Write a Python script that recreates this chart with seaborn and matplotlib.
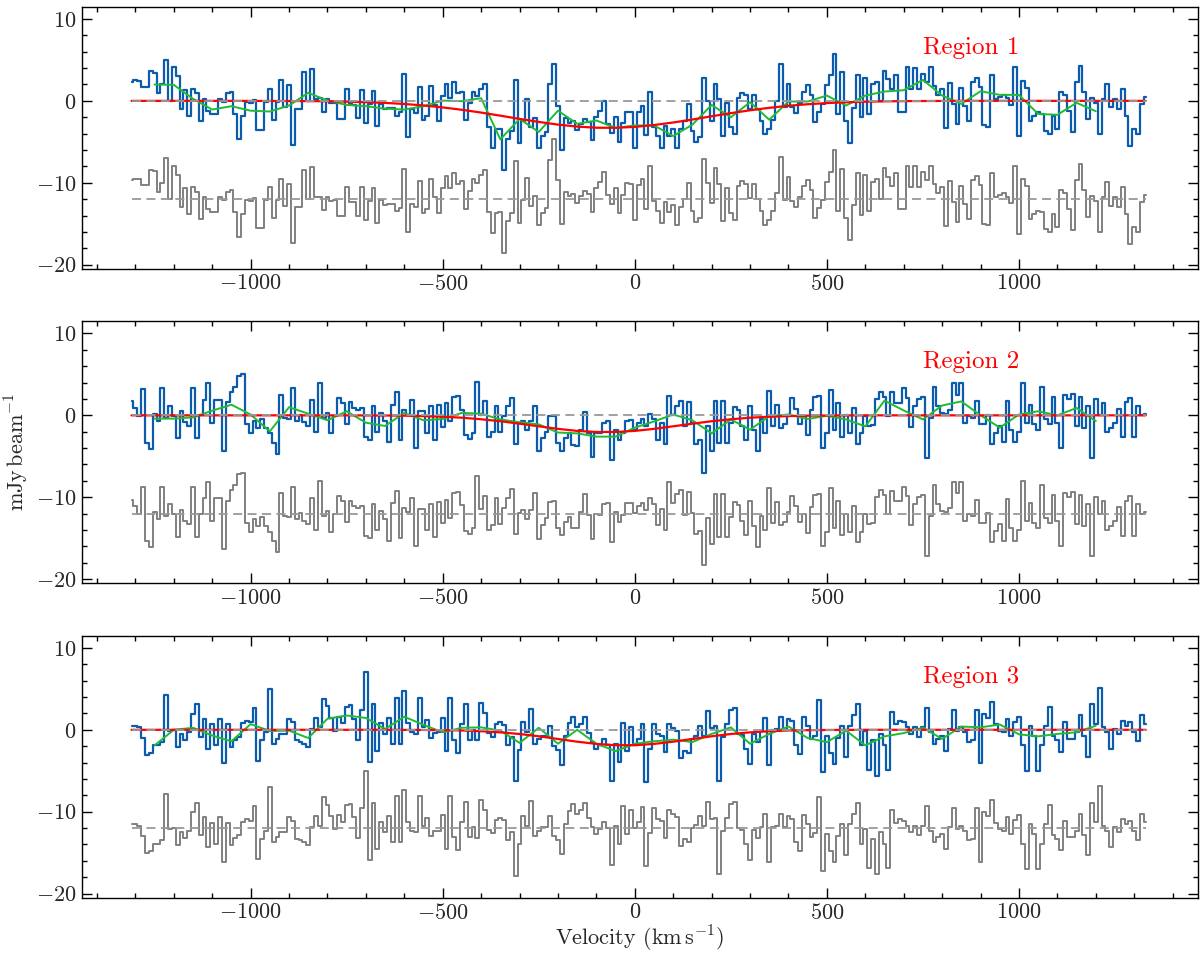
import numpy as np
import matplotlib
matplotlib.use('Agg')
import matplotlib.pyplot as plt
from matplotlib.ticker import MultipleLocator
import seaborn as sns

# channel velocities (km/s), 10 km/s channels
velocity = np.arange(-1310, 1331, 10)
# smoothed spectrum, one point every 50 km/s
smooth_velocity = np.arange(-1250, 1201, 50)
# gaussian fit, sampled every 50 km/s
fit_velocity = np.concatenate([[-1310], np.arange(-1300, 1301, 50), [1330]])

region_names = ['Region 1', 'Region 2', 'Region 3']
resid_offset = -12

flux_r1 = [2.3, 2.5, 2.4, 1.7, 1.7, 3.6, 3.4, 0.9, 2.0, 5.0,
           0.0, 4.1, 3.0, -1.0, 1.3, -1.8, 1.5, 0.9, -2.4, 0.2,
           -1.2, -1.6, -1.6, 0.2, -0.1, 0.9, 1.1, -1.6, -4.6, -1.8,
           -0.1, -0.2, 0.1, -3.5, -3.5, -0.1, 1.5, -2.3, -0.1, 2.5,
           -0.8, 1.9, -5.4, -1.0, -1.0, 3.5, 0.0, 3.9, 0.2, 0.3,
           -1.4, 0.2, -0.3, -0.2, -2.2, -2.2, 1.4, -0.4, -0.5, -2.1,
           1.3, -2.7, -0.4, 1.2, -3.1, -0.4, -1.0,
           -0.9, -0.9, -1.8, -1.4, 3.3, -4.4, -1.0, -1.5, 1.7, -2.3,
           -1.8, 1.8, -0.5, -2.4, 0.6, 2.0, 0.4, 2.3, 0.9, 1.1,
           -2.3, -0.2, 1.1, 0.6, 1.5, 2.1, -3.2, -5.8, -3.4, -3.4,
           -8.5, -4.6, -3.7, 2.5, -5.1, -2.4, 0.2, -3.2, -2.1, -5.7,
           -4.3, -3.8, 2.0, 4.5, -0.6, -6.0, -2.1, -2.7, -2.5, -3.6,
           -2.8, -2.2, -2.6, -4.8, -2.0, -1.2, 0.0, -2.8, -3.9, -2.0,
           -5.0, -2.7, -1.3, -1.4, -5.7, -1.4, -0.6,
           -4.2, 1.1, -3.2, -4.3, -5.8, -3.1, -4.3, -3.4, -5.7, -3.4,
           -2.4, -0.4, -3.7, -5.0, -4.4, 2.8, 0.0, -2.4, 2.0, 0.2,
           -4.3, -0.2, -3.2, -4.0, 0.3, 0.9, 0.7, -1.0, 0.7, -1.0,
           -2.4, -4.1, -3.4, -2.3, 0.0, 4.5, -0.8, 2.1, -0.8, -1.5,
           -0.2, 1.1, 1.9, 0.7, -2.6, -1.4, -0.4, 1.9, 3.1, 5.7,
           -1.6, 3.5, -2.4, -5.1, -0.9, 3.1, -2.0, 2.8, -1.6, 2.0,
           2.3, 0.0, 3.7, 2.7, 1.5, 3.1,
           -1.3, -1.3, 4.1, 1.5, 4.0, 1.5, 3.3, 2.3, 4.1, 1.8,
           0.7, 1.5, -3.3, 2.2, -0.4, -2.8, 1.6, -0.6, -2.4, 2.3,
           2.8, 1.7, -3.0, -3.2, 3.2, 0.2, 0.5, 0.7, 0.3, -0.5,
           4.1, -4.3, 2.4, 1.6, -2.4, -1.8, -1.4, -1.6, -3.7, -4.0,
           -1.8, -3.4, 1.1, 0.7, -1.2, -3.8, 2.3, 4.3, 1.1, -2.2,
           0.4, -0.2, -4.0, 0.2, 2.1, -0.8, 0.2, -1.0, 1.5, -1.8,
           -5.5, -3.4, -4.0, -0.4, 0.5]

resid_r1 = [-9.7, -9.5, -9.6, -10.3, -10.3, -8.4, -8.6, -11.1, -10.0, -7.0,
            -12.0, -7.9, -9.0, -13.0, -10.7, -13.8, -10.5, -11.1, -14.4, -11.8,
            -13.2, -13.6, -13.6, -11.8, -12.1, -11.1, -10.9, -13.6, -16.6, -13.8,
            -12.1, -12.2, -11.9, -15.5, -15.5, -12.1, -10.5, -14.3, -12.1, -9.5,
            -12.8, -10.1, -17.4, -13.0, -13.0, -8.5, -12.0, -8.1, -11.8, -11.7,
            -13.35, -11.75, -12.25, -12.1, -14.1, -14.1, -10.5, -12.3, -12.4, -14.0,
            -10.55, -14.55, -12.2, -10.6, -14.9, -12.15, -12.75, -12.6, -12.6, -13.5,
            -13.05, -8.3, -16.0, -12.55, -13.0, -9.8, -13.75, -13.2, -9.55, -11.8,
            -13.65, -10.6, -9.15, -10.7, -8.75, -10.1, -9.8, -13.15, -10.95, -9.6,
            -10.05, -9.05, -8.4, -13.6, -16.15, -13.65, -13.6, -18.6, -14.65, -13.65,
            -7.4, -14.9, -12.15, -9.45, -12.8, -11.6, -15.15, -13.65, -13.1, -7.25,
            -4.65, -9.7, -15.05, -11.1, -11.65, -11.4, -12.45, -11.6, -10.95, -11.35,
            -13.55, -10.7, -9.9, -8.7, -11.5, -12.6, -10.7, -13.7, -11.45, -10.05,
            -10.2, -14.5, -10.25, -9.5, -13.15, -7.9, -12.25, -13.4, -14.95, -12.35,
            -13.6, -12.75, -15.15, -12.9, -11.95, -10.05, -13.4, -14.8, -14.3, -7.15,
            -10.05, -12.5, -8.2, -10.1, -14.65, -10.65, -13.7, -14.55, -10.35, -9.8,
            -10.1, -11.85, -10.2, -11.95, -13.45, -15.2, -14.55, -13.5, -11.25, -6.8,
            -12.15, -9.3, -12.25, -13.0, -11.7, -10.45, -9.7, -10.9, -14.25, -13.1,
            -12.1, -9.85, -8.65, -6.05, -13.4, -8.3, -14.25, -16.95, -12.75, -8.75,
            -13.9, -9.1, -13.5, -9.9, -9.6, -11.95, -8.25, -9.25, -10.45, -8.85,
            -13.25, -13.25, -7.9, -10.5, -8.0, -10.5, -8.7, -9.7, -7.9, -10.2,
            -11.3, -10.5, -15.3, -9.8, -12.4, -14.8, -10.4, -12.6, -14.4, -9.7,
            -9.2, -10.3, -15.0, -15.2, -8.8, -11.8, -11.5, -11.3, -11.7, -12.5,
            -7.9, -16.3, -9.6, -10.4, -14.4, -13.8, -13.4, -13.6, -15.7, -16.0,
            -13.8, -15.4, -10.9, -11.3, -13.2, -15.8, -9.7, -7.7, -10.9, -14.2,
            -11.6, -12.2, -16.0, -11.8, -9.9, -12.8, -11.8, -13.0, -10.5, -13.8,
            -17.5, -15.4, -16.0, -12.4, -11.5]

smooth_r1 = [2.0, 1.95, 0.25, -1.06, -0.65, -1.2, -1.3, -0.57, 0.98, 0.04,
             -0.5, -0.65, -0.95, -1.06, -0.65, 0.04, -0.04, 0.33, -4.7, -2.2,
             -3.8, -1.2, -2.8, -2.4, -3.3, -3.0, -3.0, -4.3, -2.9, -0.5,
             -2.0, -0.16, -2.3, -0.08, -0.08, 0.65, -0.57, 0.65, 1.14, 1.3,
             2.56, 0.65, -0.37, 1.18, 0.73, 0.73, -1.6, -1.7, -0.24, -1.26]

fit_r1 = [0.0, 0.0, 0.0, 0.0, 0.0, 0.0, 0.0, -0.01, -0.01, -0.02,
          -0.03, -0.05, -0.09, -0.16, -0.25, -0.38, -0.56, -0.80, -1.09, -1.43,
          -1.81, -2.20, -2.57, -2.90, -3.14, -3.28, -3.29, -3.18, -2.95, -2.64,
          -2.28, -1.88, -1.50, -1.15, -0.85, -0.60, -0.41, -0.27, -0.17, -0.10,
          -0.06, -0.03, -0.02, -0.01, 0.0, 0.0, 0.0, 0.0, 0.0, 0.0,
          0.0, 0.0, 0.0, 0.0, 0.0]

flux_r2 = [1.7, 0.9, -0.1, 3.2, -3.4, -4.1, 0.2, -0.7, 3.3, -0.3,
           1.2, -0.1, -2.8, 0.5, -0.85, -1.3, 3.3, -2.8, 0.0, 1.9,
           3.9, -0.9, 1.9, 1.9, -4.3, 1.6, 2.9, 3.5, 4.8, 5.0,
           -1.1, -2.2, -0.7, -1.5, -0.45, -1.5, -2.2, -3.4, -4.7, 2.5,
           -0.3, -0.45, 3.3, -0.7, 0.1, -0.85, -1.3, 1.9, -2.0, 4.0,
           -0.3, 0.3, -2.2, -0.1, 2.1, 1.5, -1.0, 1.6, 0.9, 0.7,
           0.9, -2.7, -3.0, 1.2, -2.0, 0.3, -0.7,
           -3.3, 1.3, 2.8, -3.0, 0.6, 0.1, 1.9, -4.0, 0.5, 0.5,
           -2.1, 1.1, -3.0, 1.3, -1.4, 1.5, -0.7, 2.3, 2.4, 0.7,
           -2.4, -2.9, -2.2, 4.1, 0.1, 1.7, -2.6, -2.0, 1.2, -2.0,
           -0.1, 1.1, 2.1, -3.5, -0.9, -0.7, -1.8, -0.7, 1.2, -4.4,
           -2.8, -2.0, -0.1, -0.1, -3.4, -4.3, -2.8, -2.2, -3.6, -3.7,
           -1.8, 0.4, -2.2, -5.1, -2.1, -2.2, -0.9, -0.7, -5.5, -1.8,
           -3.0, -2.2, -0.7, -0.6, -1.8, -0.9, -0.45,
           -1.3, 0.2, -0.5, -3.0, -0.9, -3.5, 2.4, 0.0, 1.1, 1.7,
           -1.3, 1.6, -0.9, -3.5, -3.0, -7.1, -1.3, -4.4, 1.8, -3.4,
           1.8, -3.4, -0.9, 1.0, 0.7, -1.3, -3.0, 1.2, -1.8, -4.3,
           -0.45, -2.2, 3.0, -1.3, 1.3, -1.5, -1.1, 0.1, 2.1, 0.8,
           -1.1, -0.1, -2.4, 0.7, 2.3, 2.4, -4.0, -2.2, 3.1, -1.8,
           1.5, -2.6, 0.0, -2.2, 0.9, -3.5, -2.2, -0.1, -1.3, -1.2,
           2.0, 2.9, 2.3, -0.1, 2.8, 1.5,
           1.5, 3.3, 2.1, -1.4, 1.2, 2.0, 2.3, -5.2, -0.3, 3.5,
           1.2, 0.3, 0.2, 0.7, 3.9, 2.5, 3.9, -0.9, -0.1, -0.3,
           1.7, -1.1, -1.1, 0.1, -3.5, -2.1, -1.3, -3.3, 1.8, -1.8,
           -3.3, -2.0, 4.0, -0.9, 1.3, -1.1, -1.8, 3.5, -0.5, -1.1,
           2.3, -0.9, -4.0, 2.5, 2.0, 2.6, -1.3, 2.3, -1.5, 1.2,
           -5.2, 2.0, 0.0, 1.5, -2.0, -1.5, -0.9, 0.8, -2.7, 1.6,
           2.1, -2.7, 1.2, 0.0, 0.2]

resid_r2 = [-10.3, -11.1, -12.1, -8.8, -15.4, -16.1, -11.8, -12.7, -8.7, -12.3,
            -10.8, -12.1, -14.8, -11.5, -12.85, -13.3, -8.7, -14.8, -12.0, -10.1,
            -8.1, -12.9, -10.1, -10.1, -16.3, -10.4, -9.1, -8.5, -7.2, -7.0,
            -13.1, -14.2, -12.7, -13.5, -12.45, -13.5, -14.2, -15.4, -16.7, -9.5,
            -12.3, -12.45, -8.7, -12.7, -11.9, -12.85, -13.3, -10.1, -14.0, -8.0,
            -12.3, -11.7, -14.2, -12.1, -9.9, -10.5, -13.0, -10.4, -11.1, -11.3,
            -11.1, -14.7, -15.0, -10.8, -14.0, -11.7, -12.7, -15.3, -10.7, -9.2,
            -15.0, -11.35, -11.85, -10.05, -15.9, -11.4, -11.4, -14.0, -10.8, -14.9,
            -10.55, -13.2, -10.3, -12.5, -9.45, -9.35, -11.0, -14.1, -14.5, -13.8,
            -7.45, -11.4, -9.8, -14.0, -13.4, -10.1, -13.3, -11.3, -10.05, -9.0,
            -14.55, -11.9, -11.6, -12.65, -11.5, -9.5, -15.05, -13.4, -12.55, -10.6,
            -10.5, -13.75, -14.6, -13.05, -12.4, -13.75, -13.8, -11.85, -9.65, -12.2,
            -15.1, -12.05, -12.15, -10.85, -10.65, -15.45, -11.75, -13.0, -12.2, -10.75,
            -10.65, -11.9, -11.05, -10.65, -11.55, -10.1, -10.85, -13.4, -11.4, -14.05,
            -8.2, -10.65, -9.6, -9.1, -12.15, -9.3, -11.9, -14.55, -14.1, -18.25,
            -12.5, -15.7, -9.55, -14.8, -9.6, -14.9, -12.4, -10.55, -10.9, -12.95,
            -14.65, -10.5, -13.55, -16.05, -12.25, -14.0, -8.85, -13.15, -10.55, -13.4,
            -13.0, -11.8, -9.8, -11.1, -13.05, -12.05, -14.35, -11.25, -9.7, -9.6,
            -16.0, -14.2, -8.9, -13.8, -10.5, -14.6, -12.0, -14.2, -11.1, -15.5,
            -14.2, -12.1, -13.3, -13.2, -10.0, -9.1, -9.7, -12.1, -9.2, -10.5,
            -10.5, -8.7, -9.9, -13.4, -10.8, -10.0, -9.7, -17.2, -12.3, -8.5,
            -10.8, -11.7, -11.8, -11.3, -8.1, -9.5, -8.1, -12.9, -12.1, -12.3,
            -10.3, -13.1, -13.1, -11.9, -15.5, -14.1, -13.3, -15.3, -10.2, -13.8,
            -15.3, -14.0, -8.0, -12.9, -10.7, -13.1, -13.8, -8.5, -12.5, -13.1,
            -9.7, -12.9, -16.0, -9.5, -10.0, -9.4, -13.3, -9.7, -13.5, -10.8,
            -17.2, -10.0, -12.0, -10.5, -14.0, -13.5, -12.9, -11.2, -14.7, -10.4,
            -9.9, -14.7, -10.8, -12.0, -11.8]

smooth_r2 = [-0.4, -0.4, -0.25, 0.57, 1.3, 0.1, -1.95, 1.0, 0.2, -0.6,
             0.5, -0.9, -1.3, 0.3, -0.6, -0.45, 0.3, 0.2, -0.5, -0.85,
             -1.1, -2.1, -2.2, -2.6, -2.6, -1.5, -0.75, 0.1, -0.6, -2.2,
             -0.5, -1.75, -0.1, 0.1, -0.45, -0.05, -0.5, -1.35, 1.8, 0.6,
             -0.5, 1.2, 1.7, 0.0, -1.5, 0.1, 0.5, 0.0, 0.9, -0.7]

fit_r2 = [0.0, 0.0, 0.0, 0.0, 0.0, 0.0, 0.0, 0.0, 0.0, 0.0,
          0.0, 0.0, 0.0, -0.01, -0.02, -0.04, -0.09, -0.17, -0.29, -0.48,
          -0.72, -1.02, -1.34, -1.65, -1.90, -2.03, -2.03, -1.90, -1.65, -1.34,
          -1.02, -0.72, -0.48, -0.29, -0.17, -0.09, -0.04, -0.02, -0.01, 0.0,
          0.0, 0.0, 0.0, 0.0, 0.0, 0.0, 0.0, 0.0, 0.0, 0.0,
          0.0, 0.0, 0.0, 0.0, 0.0]

flux_r3 = [0.5, 0.5, 0.3, -1.0, -3.1, -2.8, -1.9, -1.9, -1.5, 4.2,
           -0.1, 0.0, -2.1, -0.5, -1.2, -0.3, 1.95, 3.1, -0.9, 1.3,
           -2.3, 0.65, -1.9, 1.3, -4.1, 0.65, -2.1, -1.2, -0.9, 0.8,
           1.05, 0.9, 2.7, -3.8, -1.3, -0.3, 5.0, -1.7, -1.1, -0.5,
           -0.5, 1.3, 0.9, -1.3, -1.5, -1.7, -2.1, 0.1, 1.45, 0.3,
           3.8, 2.85, 1.45, -0.1, 1.6, 0.8, 2.8, 3.0, 1.3, -1.2,
           2.4, 7.0, -3.9, 3.1, -2.6, 0.8, -0.5,
           1.5, -1.7, 3.9, -1.7, 4.7, 0.8, -0.3, -0.5, 3.9, 0.3,
           1.15, -1.0, -0.4, -0.3, 1.5, -2.6, 3.9, -1.2, -2.8, 0.7,
           3.1, -1.2, 0.0, -1.3, 3.25, 2.0, -0.4, -0.9, 0.7, 0.9,
           0.6, -1.9, -0.9, -6.3, -2.5, 0.9, -0.3, 2.6, -1.7, -1.1,
           -0.7, -0.8, 0.5, -2.0, -2.5, -4.35, -0.8, 0.8, 1.55, 0.3,
           0.7, 1.55, -0.4, -1.5, -2.4, -1.9, -1.1, -1.8, -6.3, -1.7,
           -3.9, 0.8, -2.6, 0.3, -1.9, -1.1, 0.7,
           -6.4, -2.3, 0.7, -0.5, -0.7, -2.7, 0.65, 0.25, -0.1, -3.5,
           -2.6, -2.85, -1.1, -0.7, 0.5, -0.7, 2.3, 0.25, 0.5, -6.2,
           -0.9, 0.65, 2.4, 2.7, -0.5, -0.6, -2.3, -4.2, -0.5, -1.5,
           -0.15, 1.5, -4.35, 0.0, 0.1, 1.6, 0.0, 1.35, 1.1, -1.8,
           -2.9, 1.6, 0.5, -1.1, -0.7, 3.7, -5.2, -0.7, -2.85, -4.2,
           -1.0, 0.5, -3.3, 0.5, 1.75, 3.1, -1.9, -0.1, -4.9, -1.3,
           -5.6, -0.5, -1.9, -4.9, 2.2, 0.65,
           1.05, 0.9, 0.3, -0.5, 0.3, -0.9, 0.3, 2.7, -0.3, -1.7,
           -1.1, -0.7, -2.6, 0.1, 2.4, -0.1, 0.3, -0.3, -1.5, -1.3,
           2.4, -4.1, 1.95, 1.5, 3.4, 0.65, -0.1, -0.3, 1.3, -0.7,
           1.0, 1.6, -1.9, -5.0, 0.5, -0.7, -5.0, -1.9, 0.5, 2.8,
           -0.8, -1.3, -2.7, 0.9, -1.1, -1.1, -0.3, 1.75, -0.8, -3.3,
           3.1, 0.7, 5.1, 0.3, -0.3, -2.3, 0.1, -0.5, 1.05, 0.5,
           0.9, -0.3, -1.4, 1.75, 0.7]

resid_r3 = [-11.5, -11.5, -11.7, -13.0, -15.1, -14.8, -13.9, -13.9, -13.5, -7.8,
            -12.1, -12.0, -14.1, -12.5, -13.2, -12.3, -10.05, -8.9, -12.9, -10.7,
            -14.3, -11.35, -13.9, -10.7, -16.1, -11.35, -14.1, -13.2, -12.9, -11.2,
            -10.95, -11.1, -9.3, -15.8, -13.3, -12.3, -7.0, -13.7, -13.1, -12.5,
            -12.5, -10.7, -11.1, -13.3, -13.5, -13.7, -14.1, -11.9, -10.55, -11.7,
            -8.2, -9.15, -10.55, -12.1, -10.4, -11.2, -9.2, -9.0, -10.7, -13.2,
            -9.6, -5.0, -15.9, -8.9, -14.6, -11.2, -12.5, -10.5, -13.7, -8.1,
            -13.7, -7.3, -11.2, -12.3, -12.5, -8.1, -11.7, -10.8, -13.0, -12.4,
            -12.3, -10.45, -14.55, -8.05, -13.1, -14.7, -11.2, -8.8, -13.1, -11.85,
            -13.15, -8.6, -9.8, -12.2, -12.65, -11.0, -10.8, -11.05, -13.5, -12.45,
            -17.85, -14.0, -10.55, -11.7, -8.75, -12.95, -12.3, -11.85, -11.9, -10.5,
            -12.95, -13.4, -15.15, -11.55, -9.9, -9.05, -10.25, -9.8, -8.9, -10.8,
            -11.85, -12.7, -12.15, -11.3, -11.95, -16.45, -11.8, -14.0, -9.3, -12.7,
            -9.8, -12.0, -11.25, -9.45, -16.6, -12.55, -9.6, -10.85, -11.1, -13.15,
            -9.85, -10.3, -10.7, -14.2, -13.35, -13.65, -11.95, -11.65, -10.5, -11.8,
            -8.85, -10.95, -10.75, -17.55, -12.3, -10.8, -9.1, -8.85, -12.05, -12.2,
            -13.95, -15.9, -12.2, -13.25, -11.9, -10.3, -16.2, -11.85, -11.75, -10.3,
            -11.9, -10.55, -10.85, -13.75, -14.85, -10.35, -11.45, -13.05, -12.65, -8.25,
            -17.2, -12.7, -14.85, -16.2, -13.0, -11.5, -15.3, -11.5, -10.25, -8.9,
            -13.9, -12.1, -16.9, -13.3, -17.6, -12.5, -13.9, -16.9, -9.8, -11.35,
            -10.95, -11.1, -11.7, -12.5, -11.7, -12.9, -11.7, -9.3, -12.3, -13.7,
            -13.1, -12.7, -14.6, -11.9, -9.6, -12.1, -11.7, -12.3, -13.5, -13.3,
            -9.6, -16.1, -10.05, -10.5, -8.6, -11.35, -12.1, -12.3, -10.7, -12.7,
            -11.0, -10.4, -13.9, -17.0, -11.5, -12.7, -17.0, -13.9, -11.5, -9.2,
            -12.8, -13.3, -14.7, -11.1, -13.1, -13.1, -12.3, -10.25, -12.8, -15.3,
            -8.9, -11.3, -6.9, -11.7, -12.3, -14.3, -11.9, -12.5, -10.95, -11.5,
            -11.1, -12.3, -13.4, -10.25, -11.3]

smooth_r3 = [-1.9, 0.0, 0.25, -0.7, -1.4, 0.7, -0.15, -0.1, -1.0, 1.35,
             1.75, 1.45, 0.1, 1.6, 0.6, -0.3, 0.25, 0.3, -0.1, -1.6,
             0.25, -1.7, 0.0, -1.7, -2.6, -1.7, -1.4, -1.2, -1.5, -0.5,
             0.3, -1.7, -0.5, 0.4, -1.0, -1.5, -0.1, -1.9, -0.8, -0.4,
             0.25, -1.1, 0.4, 0.3, 0.65, -0.55, -0.8, -0.5, -0.3, 0.5]

fit_r3 = [0.0, 0.0, 0.0, 0.0, 0.0, 0.0, 0.0, 0.0, 0.0, 0.0,
          0.0, 0.0, 0.0, 0.0, 0.0, -0.01, -0.02, -0.04, -0.08, -0.17,
          -0.31, -0.51, -0.79, -1.12, -1.45, -1.72, -1.88, -1.88, -1.72, -1.45,
          -1.12, -0.79, -0.51, -0.31, -0.17, -0.08, -0.04, -0.02, -0.01, 0.0,
          0.0, 0.0, 0.0, 0.0, 0.0, 0.0, 0.0, 0.0, 0.0, 0.0,
          0.0, 0.0, 0.0, 0.0, 0.0]

fluxes = [flux_r1, flux_r2, flux_r3]
resids = [resid_r1, resid_r2, resid_r3]
smooths = [smooth_r1, smooth_r2, smooth_r3]
fits = [fit_r1, fit_r2, fit_r3]

sns.set_theme(style='ticks')
plt.rcParams['font.family'] = ['serif']
plt.rcParams['font.serif'] = ['cmr10']
plt.rcParams['mathtext.fontset'] = 'cm'
plt.rcParams['axes.formatter.use_mathtext'] = True
plt.rcParams['axes.edgecolor'] = 'black'
plt.rcParams['axes.linewidth'] = 1.0

fig, axes = plt.subplots(3, 1, figsize=(12, 9.55), dpi=100)
fig.subplots_adjust(left=0.068, right=0.998, bottom=0.06, top=0.993, hspace=0.2)

for ax, name, flux, resid, smooth, fit in zip(axes, region_names, fluxes, resids, smooths, fits):
    sns.lineplot(x=velocity, y=resid, ax=ax, color='#808080', lw=1.4,
                 drawstyle='steps-mid', estimator=None)
    sns.lineplot(x=velocity, y=flux, ax=ax, color='#0c5cad', lw=1.6,
                 drawstyle='steps-mid', estimator=None)
    sns.lineplot(x=smooth_velocity, y=smooth, ax=ax, color='#1fbb33', lw=1.4,
                 estimator=None)
    sns.lineplot(x=fit_velocity, y=fit, ax=ax, color='red', lw=1.6, estimator=None)
    ax.hlines([0, resid_offset], velocity[0], velocity[-1], colors='#999999',
              linestyles=(0, (5, 3)), lw=1.3)

    ax.text(875, 6.5, name, color='red', fontsize=18, ha='center', va='center')

    ax.set_xlim(-1440, 1465)
    ax.set_ylim(-20.5, 11.5)
    ax.xaxis.set_major_locator(MultipleLocator(500))
    ax.xaxis.set_minor_locator(MultipleLocator(100))
    ax.yaxis.set_major_locator(MultipleLocator(10))
    ax.yaxis.set_minor_locator(MultipleLocator(2))
    ax.tick_params(which='both', direction='in', top=True, right=True,
                   labelsize=16, color='black', width=1)
    ax.tick_params(which='major', length=7)
    ax.tick_params(which='minor', length=3.5)
    ax.set_xlabel('')
    ax.set_ylabel('')

axes[1].set_ylabel(r'mJy$\,$beam$^{-1}$', fontsize=16)
axes[2].set_xlabel(r'Velocity (km$\,$s$^{-1}$)', fontsize=16, labelpad=1)

fig.savefig('out.png', dpi=100)
